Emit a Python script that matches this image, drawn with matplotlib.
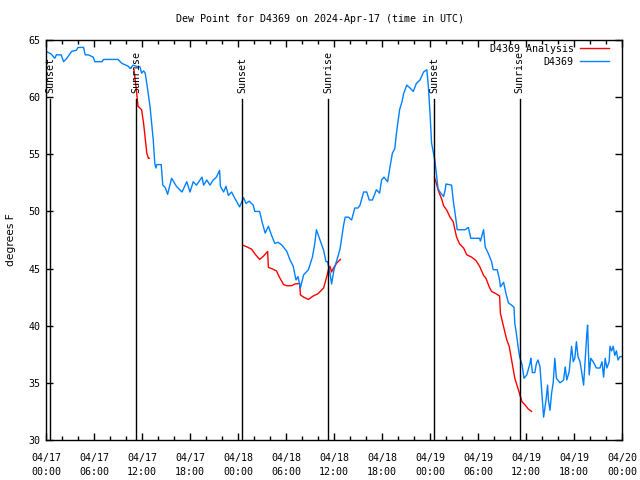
import numpy as np
import matplotlib
matplotlib.use('Agg')
from matplotlib import pyplot as plt
from matplotlib.ticker import MultipleLocator

# hours since 04/17 00:00 UTC
obs_hours = [0.0, 0.3, 0.6, 1.1, 1.3, 1.9, 2.2, 2.6, 3.2, 3.8, 4.0, 4.7, 4.9, 5.3, 5.9, 6.1, 7.0, 7.2, 9.0,
             9.5, 10.3, 10.5, 10.9, 11.3, 11.75, 11.95, 12.2, 12.4, 12.6, 13.0, 13.4, 13.6, 13.75, 13.85, 14.4,
             14.6, 14.9, 15.2, 15.7, 16.3, 17.0, 17.6, 18.0, 18.4, 18.8, 19.5, 19.7, 20.1, 20.5, 20.9, 21.3,
             21.7, 21.8, 22.2, 22.5, 22.8, 23.2, 23.6, 24.2, 24.7, 25.0, 25.4, 25.9, 26.1, 26.7, 27.0, 27.4,
             27.8, 28.2, 28.6, 29.0, 29.5, 30.1, 30.5, 30.9, 31.25, 31.5, 31.8, 32.2, 32.8, 33.3, 33.6, 33.8,
             34.25, 34.7, 35.0, 35.2, 35.5, 35.7, 36.0, 36.3, 36.75, 37.2, 37.4, 37.8, 38.2, 38.6, 39.0, 39.25,
             39.7, 40.1, 40.4, 40.8, 41.3, 41.7, 41.95, 42.25, 42.7, 43.0, 43.3, 43.6, 43.8, 44.2, 44.5, 44.7,
             45.1, 45.5, 45.9, 46.3, 46.75, 47.2, 47.6, 47.8, 48.0, 48.2, 48.6, 48.8, 49.0, 49.25, 49.7, 49.9,
             50.0, 50.7, 50.9, 51.25, 51.4, 52.4, 52.8, 53.1, 54.2, 54.3, 54.7, 54.9, 55.3, 55.7, 55.9, 56.4,
             56.7, 56.8, 57.2, 57.5, 57.8, 58.2, 58.5, 58.6, 58.8, 59.0, 59.2, 59.5, 59.75, 60.1, 60.5, 60.6,
             60.8, 61.1, 61.3, 61.5, 61.75, 61.95, 62.2, 62.3, 62.5, 62.7, 62.8, 63.0, 63.2, 63.4, 63.6, 63.8,
             64.25, 64.7, 64.9, 65.1, 65.4, 65.7, 65.9, 66.1, 66.3, 66.5, 66.75, 66.95, 67.2, 67.4, 67.6, 67.7,
             67.8, 67.9, 68.1, 68.4, 68.8, 69.25, 69.5, 69.7, 69.9, 70.1, 70.4, 70.5, 70.7, 70.9, 71.1, 71.3,
             71.5, 71.75, 72.0]
obs_dewpt = [64.0, 63.9, 63.8, 63.4, 63.7, 63.7, 63.1, 63.4, 64.0, 64.1, 64.35, 64.35, 63.7, 63.7, 63.5, 63.1,
             63.1, 63.3, 63.3, 62.95, 62.7, 62.5, 62.8, 62.7, 62.65, 62.1, 62.3, 62.1, 61.2, 59.2, 56.3, 54.2,
             53.8, 54.1, 54.1, 52.3, 52.1, 51.5, 52.9, 52.2, 51.7, 52.6, 51.7, 52.6, 52.3, 53.0, 52.3, 52.75,
             52.3, 52.75, 53.0, 53.6, 52.2, 51.7, 52.2, 51.4, 51.7, 51.15, 50.4, 51.2, 50.7, 50.9, 50.55, 50.0,
             50.0, 49.1, 48.1, 48.7, 47.9, 47.2, 47.3, 47.05, 46.5, 45.75, 45.2, 44.0, 44.3, 43.3, 44.45, 44.9,
             46.0, 47.2, 48.4, 47.5, 46.6, 45.6, 45.6, 44.6, 43.65, 44.9, 45.6, 46.7, 48.8, 49.5, 49.5, 49.25,
             50.3, 50.3, 50.55, 51.7, 51.7, 51.0, 51.0, 51.9, 51.6, 52.75, 53.0, 52.6, 53.9, 55.1, 55.5, 56.8,
             58.9, 59.6, 60.3, 61.05, 60.8, 60.5, 61.2, 61.5, 62.2, 62.4, 60.9, 58.6, 55.95, 54.5, 53.3, 52.0,
             51.7, 51.3, 51.9, 52.4, 52.3, 51.0, 49.25, 48.4, 48.4, 48.6, 47.65, 47.65, 47.4, 48.4, 46.9, 46.3,
             45.6, 44.9, 44.9, 44.0, 43.4, 43.8, 42.8, 42.0, 41.8, 41.6, 40.2, 39.3, 38.2, 37.3, 36.6, 35.4,
             35.7, 36.7, 37.15, 35.9, 35.9, 36.7, 37.0, 36.4, 34.5, 32.0, 32.5, 33.5, 34.8, 33.5, 32.6, 34.1,
             35.0, 37.15, 35.4, 35.0, 35.25, 36.4, 35.25, 36.0, 38.2, 36.85, 37.15, 38.6, 37.3, 36.85, 36.0,
             34.8, 37.0, 39.3, 40.05, 37.9, 35.7, 37.15, 36.85, 36.3, 36.3, 36.85, 35.5, 37.15, 36.3, 36.85,
             38.2, 37.8, 38.2, 37.4, 37.8, 37.0, 37.3, 37.3]

nan = np.nan
anl_hours = [11.0, 11.3, 11.5, 11.95, 12.2, 12.4, 12.6, 12.8, 12.9, nan,
             24.6, 25.1, 25.7, 26.1, 26.7, 27.2, 27.7, 27.8, 28.2, 28.8, 29.25, 29.7, 30.1, 30.7, 31.1, 31.7,
             31.8, 32.2, 32.8, 33.4, 34.0, 34.7, 35.1, 35.3, 35.5, 35.7, 35.9, 36.3, 36.8, nan,
             48.55, 48.8, 49.0, 49.5, 49.7, 50.1, 50.5, 50.9, 51.3, 51.7, 52.2, 52.6, 53.2, 53.75, 54.2, 54.7,
             55.0, 55.4, 55.7, 56.25, 56.7, 56.8, 57.2, 57.6, 57.9, 58.2, 58.6, 59.0, 59.5, 59.9, 60.3, 60.7]
anl_dewpt = [62.4, 60.6, 59.2, 58.9, 57.7, 56.4, 55.1, 54.65, 54.65, nan,
             47.05, 46.9, 46.7, 46.3, 45.8, 46.1, 46.5, 45.1, 45.0, 44.8, 44.15, 43.6, 43.5, 43.5, 43.65, 43.7,
             42.7, 42.5, 42.3, 42.6, 42.8, 43.3, 44.3, 44.9, 45.2, 44.7, 45.0, 45.45, 45.8, nan,
             53.0, 52.45, 51.9, 51.0, 50.5, 50.1, 49.5, 49.1, 47.8, 47.15, 46.8, 46.2, 46.0, 45.7, 45.2, 44.4,
             44.15, 43.4, 43.0, 42.8, 42.6, 41.1, 39.9, 38.75, 38.2, 37.0, 35.4, 34.5, 33.35, 33.05, 32.7, 32.5]

sun_hours = [0.5, 11.3, 24.55, 35.3, 48.5, 59.2]
sun_labels = ['Sunset', 'Sunrise', 'Sunset', 'Sunrise', 'Sunset', 'Sunrise']

tick_hours = [0, 6, 12, 18, 24, 30, 36, 42, 48, 54, 60, 66, 72]
tick_labels = ['04/17\n00:00', '04/17\n06:00', '04/17\n12:00', '04/17\n18:00',
               '04/18\n00:00', '04/18\n06:00', '04/18\n12:00', '04/18\n18:00',
               '04/19\n00:00', '04/19\n06:00', '04/19\n12:00', '04/19\n18:00', '04/20\n00:00']

mono = 'DejaVu Sans Mono'
fs = 7.2

fig = plt.figure(figsize=(6.4, 4.8), dpi=100)
ax = fig.add_axes([46 / 640, 40 / 480, 576 / 640, 400 / 480])

ax.plot(anl_hours, anl_dewpt, color='#ff0000', lw=1, label='D4369 Analysis')
ax.plot(obs_hours, obs_dewpt, color='#0080ff', lw=1, label='D4369')

for h, lab in zip(sun_hours, sun_labels):
    ax.plot([h, h], [30, 59.8], color='black', lw=1)
    ax.text(h, 60.4, lab, rotation=90, ha='center', va='bottom', family=mono, fontsize=fs)

ax.set_xlim(0, 72)
ax.set_ylim(30, 65)
ax.set_xticks(tick_hours)
ax.set_xticklabels(tick_labels, family=mono, fontsize=fs, linespacing=1.55)
ax.xaxis.set_minor_locator(MultipleLocator(2))
ax.set_yticks(range(30, 66, 5))
ax.set_yticklabels([str(v) for v in range(30, 66, 5)], family=mono, fontsize=fs)
ax.tick_params(which='both', direction='in', top=True, right=True, width=1)
ax.tick_params(which='major', length=5, pad=4)
ax.tick_params(axis='x', which='major', pad=9)
ax.tick_params(which='minor', length=3)
for s in ax.spines.values():
    s.set_linewidth(1)

ax.set_ylabel('degrees F', fontsize=fs + 0.5, labelpad=9)
fig.text(0.5, 1 - 19 / 480, 'Dew Point for D4369 on 2024-Apr-17 (time in UTC)',
         ha='center', va='center', family=mono, fontsize=fs)

leg = ax.legend(loc='upper right', bbox_to_anchor=(0.984, 1.0), borderaxespad=0, frameon=False,
                markerfirst=False, prop={'family': mono, 'size': fs},
                handlelength=2.9, handletextpad=0.6, labelspacing=0.3)
for t in leg.get_texts():
    t.set_ha('right')

fig.savefig('out.png', dpi=100)
